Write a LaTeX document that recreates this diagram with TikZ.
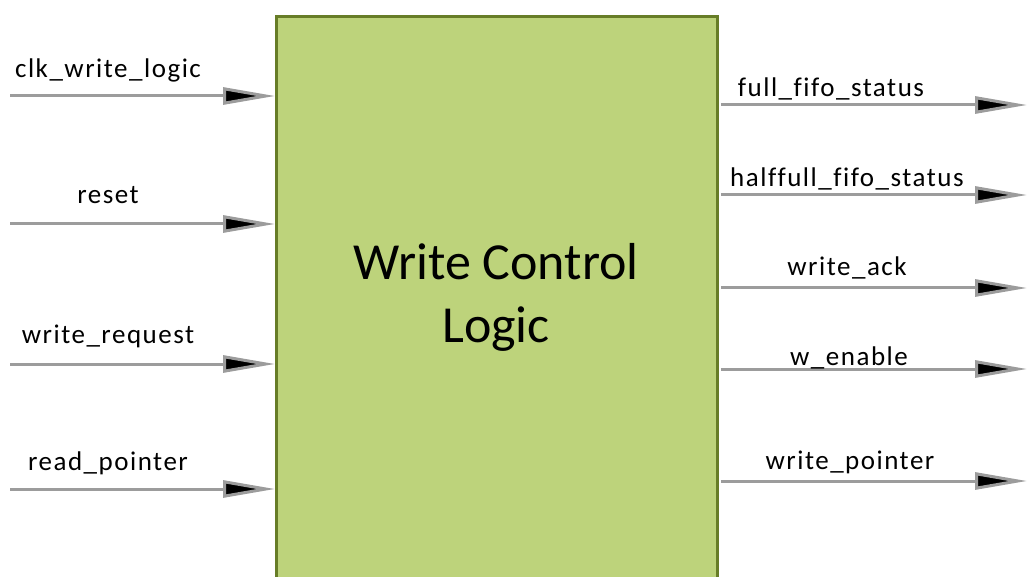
\documentclass[tikz,border=0pt]{standalone}
\usepackage{fontspec}
\setmainfont{Carlito}[Ligatures=CommonOff]
\newfontfamily\lblfont{Carlito}[Ligatures=CommonOff,LetterSpace=5.6]
\usetikzlibrary{arrows.meta}
\definecolor{boxfill}{HTML}{BDD37B}
\definecolor{boxline}{HTML}{677D27}
\definecolor{wire}{HTML}{9C9C9C}
\tikzset{
  sig/.style={draw=wire, line width=3pt,
    -{Triangle[length=52pt,width=17pt,fill=black,line width=3pt]}},
  lbl/.style={anchor=base, font=\lblfont\fontsize{27pt}{30pt}\selectfont, inner sep=0pt},
  block/.style={draw=boxline, fill=boxfill, line width=2.8pt, anchor=north west,
    minimum width=441pt, minimum height=600pt, inner sep=0pt},
}
\begin{document}
\begin{tikzpicture}[x=1pt,y=-1pt]
\useasboundingbox (0,0) rectangle (1028,577);
\clip (0,0) rectangle (1028,577);
\node[block] (main) at (275,15) {};
\node[font=\fontsize{52pt}{63pt}\selectfont, align=center, inner sep=0pt] (title) at (496,297) {Write Control\\Logic};
% inputs
\coordinate (i1) at (10,96);
\coordinate (i2) at (10,224);
\coordinate (i3) at (10,364);
\coordinate (i4) at (10,489);
\draw[sig] (i1) -- (i1 -| main.west);
\draw[sig] (i2) -- (i2 -| main.west);
\draw[sig] (i3) -- (i3 -| main.west);
\draw[sig] (i4) -- (i4 -| main.west);
\node[lbl] (li1) at (108,78) {clk\_write\_logic};
\node[lbl] (li2) at (108,204) {reset};
\node[lbl] (li3) at (108,344) {write\_request};
\node[lbl] (li4) at (108,470) {read\_pointer};
% outputs
\coordinate (o1) at (1027,105);
\coordinate (o2) at (1027,195);
\coordinate (o3) at (1027,288);
\coordinate (o4) at (1027,369);
\coordinate (o5) at (1027,481);
\draw[sig] (main.east |- o1) ++(2,0) -- (o1);
\draw[sig] (main.east |- o2) ++(2,0) -- (o2);
\draw[sig] (main.east |- o3) ++(2,0) -- (o3);
\draw[sig] (main.east |- o4) ++(2,0) -- (o4);
\draw[sig] (main.east |- o5) ++(2,0) -- (o5);
\node[lbl] (lo1) at (831,97) {full\_fifo\_status};
\node[lbl] (lo2) at (847,187) {halffull\_fifo\_status};
\node[lbl] (lo3) at (847,276) {write\_ack};
\node[lbl] (lo4) at (849,365) {w\_enable};
\node[lbl] (lo5) at (850,469) {write\_pointer};
\end{tikzpicture}
\end{document}
